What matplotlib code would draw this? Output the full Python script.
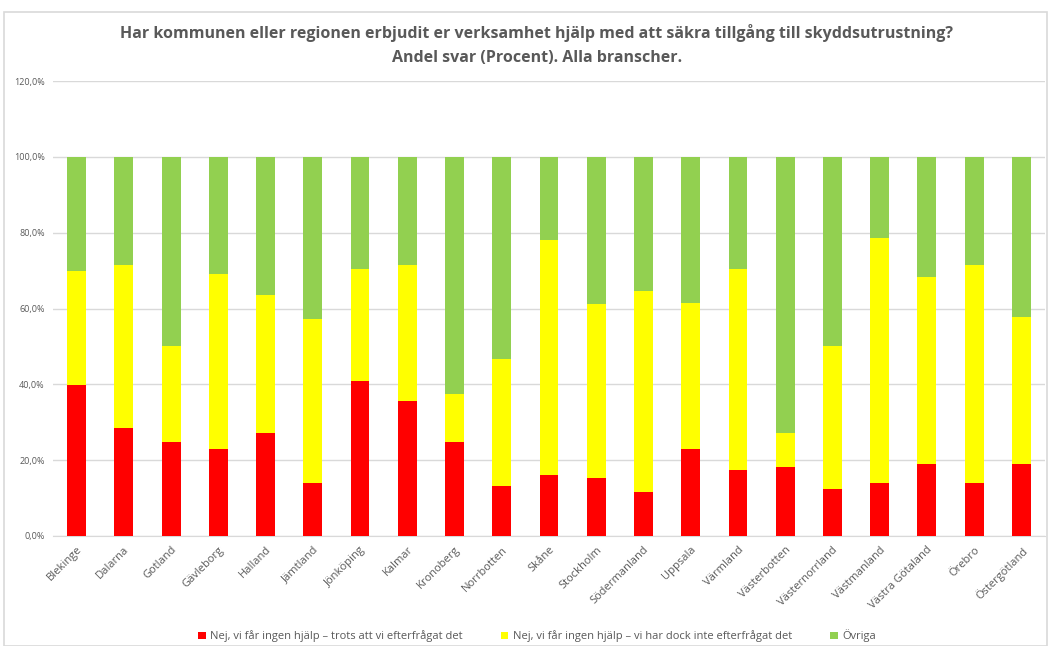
import matplotlib
matplotlib.use("Agg")
import matplotlib.pyplot as plt
import numpy as np
from matplotlib.ticker import FuncFormatter
from matplotlib.patches import Rectangle

regions = ["Blekinge", "Dalarna", "Gotland", "Gävleborg", "Halland", "Jämtland",
           "Jönköping", "Kalmar", "Kronoberg", "Norrbotten", "Skåne", "Stockholm",
           "Södermanland", "Uppsala", "Värmland", "Västerbotten", "Västernorrland",
           "Västmanland", "Västra Götaland", "Örebro", "Östergötland"]
nej_efterfragat = [39.9, 28.4, 24.8, 22.9, 27.2, 14.1, 41.0, 35.5, 24.8, 13.1, 16.2,
                   15.3, 11.7, 22.9, 17.5, 18.2, 12.4, 14.1, 19.1, 14.1, 19.1]
# cumulative top of the yellow segment
yellow_top = [70.0, 71.4, 50.0, 69.0, 63.6, 57.1, 70.5, 71.4, 37.4, 46.7, 78.1,
              61.2, 64.6, 61.5, 70.5, 27.2, 50.0, 78.6, 68.3, 71.4, 57.7]
nej_inte_efterfragat = [round(t - r, 1) for t, r in zip(yellow_top, nej_efterfragat)]
ovriga = [round(100 - t, 1) for t in yellow_top]

series_names = ["Nej, vi får ingen hjälp – trots att vi efterfrågat det",
                "Nej, vi får ingen hjälp – vi har dock inte efterfrågat det",
                "Övriga"]
colors = ["#FF0000", "#FFFF00", "#92D050"]

plt.rcParams['font.family'] = ['Open Sans', 'DejaVu Sans']

fig = plt.figure(figsize=(10.51, 6.46), dpi=100)
ax = fig.add_axes([53/1051, 1 - 536/646, 992/1051, (536 - 81)/646])

x = np.arange(len(regions))
w = 0.40
b1 = ax.bar(x, nej_efterfragat, w, color=colors[0], label=series_names[0], zorder=3)
b2 = ax.bar(x, nej_inte_efterfragat, w, bottom=nej_efterfragat, color=colors[1],
            label=series_names[1], zorder=3)
b3 = ax.bar(x, ovriga, w, bottom=yellow_top, color=colors[2], label=series_names[2], zorder=3)

ax.set_xlim(-0.5, len(regions) - 0.5)
ax.set_ylim(0, 120)
ax.set_yticks(np.arange(0, 121, 20))
ax.yaxis.set_major_formatter(FuncFormatter(lambda v, p: f"{v:.1f}%".replace(".", ",")))
ax.grid(axis='y', color="#D9D9D9", linewidth=1, zorder=0)
for s in ["top", "right", "left"]:
    ax.spines[s].set_visible(False)
ax.spines["bottom"].set_color("#D9D9D9")
ax.tick_params(axis='both', length=0, colors="#595959")
ax.tick_params(axis='y', labelsize=6.5, pad=6)
ax.set_xticks(x)
ax.set_xticklabels(regions, rotation=45, ha='right', rotation_mode='anchor',
                   fontsize=8, color="#595959")
ax.tick_params(axis='x', pad=6)

title_kw = dict(ha='center', va='center', fontsize=11.5, fontweight='bold', color="#595959")
fig.text(537/1051, 1 - 33/646,
         "Har kommunen eller regionen erbjudit er verksamhet hjälp med att säkra tillgång till skyddsutrustning?",
         **title_kw)
fig.text(537/1051, 1 - 58/646, "Andel svar (Procent). Alla branscher.", **title_kw)

leg = fig.legend(handles=[b1, b2, b3], labels=series_names, loc='center',
                 bbox_to_anchor=(537/1051, 1 - 636/646), ncol=3, frameon=False,
                 fontsize=8, handlelength=0.7, handleheight=0.7, handletextpad=0.4,
                 columnspacing=3.4, labelcolor="#595959")

# chart area border
fig.add_artist(Rectangle((4/1051, 0), 1 - 8/1051, 1 - 12/646, transform=fig.transFigure,
                         fill=False, edgecolor="#D9D9D9", linewidth=1.2))

fig.savefig("out.png", dpi=100)
